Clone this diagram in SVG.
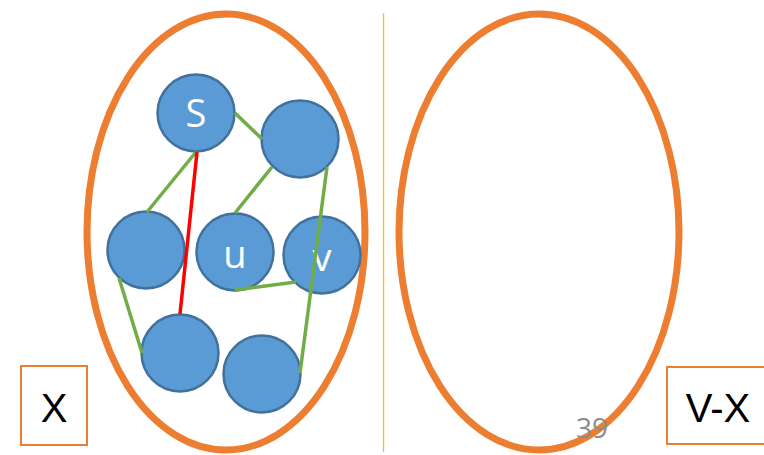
<svg xmlns="http://www.w3.org/2000/svg" width="764" height="455" viewBox="0 0 764 455">
  <style>
    .set { fill: none; stroke: #ED7D31; stroke-width: 7; }
    .box { fill: #FFFFFF; stroke: #ED7D31; stroke-width: 2; }
    .node { fill: #5B9BD5; stroke: #41719C; stroke-width: 2.5; }
    .edge { stroke: #70AD47; stroke-width: 3.5; fill: none; }
    .cut { stroke: #FF0000; stroke-width: 3.5; fill: none; }
    .nlabel { font-family: "Open Sans", "Liberation Sans", sans-serif; font-size: 38px; fill: #FFFFFF; text-anchor: middle; }
    .blabel { font-family: "Liberation Sans", Arial, sans-serif; font-size: 40px; fill: #000000; text-anchor: middle; }
  </style>
  <rect width="764" height="455" fill="#FFFFFF"/>

  <!-- divider -->
  <line x1="383.5" y1="13" x2="383.5" y2="452" stroke="#FFC000" stroke-width="1.3"/>

  <!-- the two vertex sets -->
  <ellipse class="set" cx="226" cy="232" rx="139" ry="218"/>
  <ellipse class="set" cx="539" cy="232" rx="140" ry="218"/>

  <!-- vertices -->
  <g id="node-s">
    <circle class="node" cx="196" cy="113" r="38.5"/>
    <text class="nlabel" x="196" y="127">S</text>
  </g>
  <g id="node-a">
    <circle class="node" cx="300" cy="139" r="38.5"/>
  </g>
  <g id="node-b">
    <circle class="node" cx="146" cy="250" r="38.5"/>
  </g>
  <g id="node-u">
    <circle class="node" cx="235" cy="252" r="38.5"/>
    <text class="nlabel" x="235" y="268">u</text>
  </g>
  <g id="node-v">
    <circle class="node" cx="322" cy="255" r="38.5"/>
    <text class="nlabel" x="322" y="271">v</text>
  </g>
  <g id="node-c">
    <circle class="node" cx="180" cy="353" r="38.5"/>
  </g>
  <g id="node-d">
    <circle class="node" cx="262" cy="374" r="38.5"/>
  </g>

  <!-- edges -->
  <g id="connectors">
    <line class="edge" x1="235" y1="113" x2="262" y2="139"/>
    <line class="edge" x1="196" y1="152" x2="147" y2="212"/>
    <line class="edge" x1="272" y1="167" x2="235" y2="213"/>
    <line class="edge" x1="327" y1="167" x2="300" y2="373"/>
    <line class="edge" x1="119" y1="278" x2="142" y2="353"/>
    <line class="edge" x1="235" y1="290" x2="296" y2="282"/>
    <line class="cut" x1="197" y1="152" x2="180" y2="314"/>
  </g>

  <!-- set labels -->
  <g id="label-x">
    <rect class="box" x="21" y="366" width="66" height="79"/>
    <text class="blabel" x="54" y="422">X</text>
  </g>
  <g id="label-vx">
    <rect class="box" x="667" y="367" width="110" height="77"/>
    <text class="blabel" x="718" y="422">V-X</text>
  </g>

  <!-- slide number -->
  <text x="592" y="438" font-family="Open Sans, Liberation Sans, sans-serif" font-size="28" fill="#8C8C8C" text-anchor="middle">39</text>
</svg>
